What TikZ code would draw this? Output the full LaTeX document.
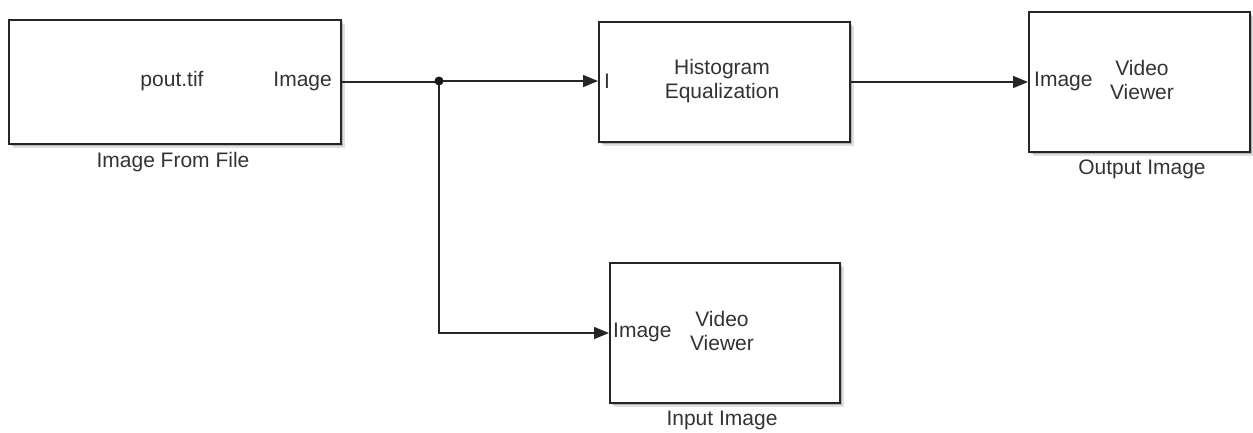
\documentclass[tikz,border=0pt]{standalone}
\usepackage{fontspec}
\setmainfont{Liberation Sans}
\usetikzlibrary{shadows,arrows.meta}
\begin{document}
\begin{tikzpicture}[x=1pt,y=-1pt,
  block/.style={draw=black!85,line width=2pt,fill=white,anchor=north west,inner sep=0pt,
    general shadow={shadow xshift=3.5pt,shadow yshift=-3.5pt,opacity=0.12,fill=black},
    general shadow={shadow xshift=2pt,shadow yshift=-2pt,opacity=0.2,fill=black}},
  txt/.style={font=\fontsize{21}{24}\selectfont,text=black!80,inner sep=0pt,align=center},
  sig/.style={line width=1.5pt,draw=black!85,-{Triangle[length=15pt,width=12pt]}},
  wire/.style={line width=1.5pt,draw=black!85}]
\useasboundingbox (0,0) rectangle (1253,432);
% blocks
\node[block,minimum width=332pt,minimum height=124pt] (src) at (8,19) {};
\node[block,minimum width=251pt,minimum height=120pt] (heq) at (598,21) {};
\node[block,minimum width=221pt,minimum height=140pt] (outv) at (1028,11) {};
\node[block,minimum width=230pt,minimum height=140pt] (inv) at (609,262) {};
% block contents
\node[txt] (srcname) at (172,81) {pout.tif};
\node[txt,anchor=east] (srcport) at (332,81) {Image};
\node[txt] (srclabel) at (173,162) {Image From File};
\node[txt] (heqname) at (722,81) {Histogram\\Equalization};
\node[txt,anchor=west] (heqport) at (604,81) {I};
\node[txt,anchor=west] (outport) at (1034,81) {Image};
\node[txt] (outname) at (1142,80) {Video\\Viewer};
\node[txt] (outlabel) at (1142,169) {Output Image};
\node[txt,anchor=west] (inport) at (613,332) {Image};
\node[txt] (inname) at (722,331) {Video\\Viewer};
\node[txt] (inlabel) at (722,420) {Input Image};
% connectors
\coordinate (j) at (439,81);
\draw[wire] (src.east) -- (src.east -| j);
\draw[sig] (j) -- (j -| heq.west);
\draw[sig] (heq.east) -- (heq.east -| outv.west);
\draw[sig] (j) |- (inv.west);
\fill[black!90] (j) circle (4.5pt);
\end{tikzpicture}
\end{document}
